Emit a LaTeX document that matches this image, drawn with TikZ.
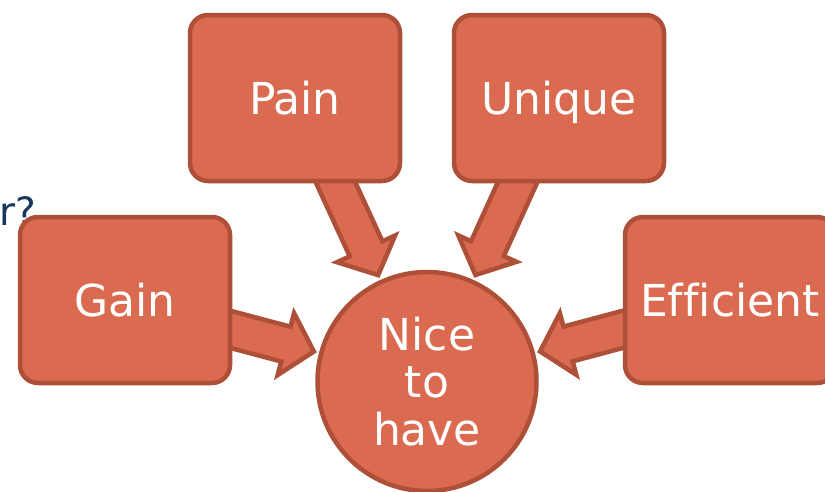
\documentclass[tikz,border=0pt]{standalone}
\usepackage{fontspec}
\setmainfont{DejaVu Sans}[Ligatures=NoCommon]
\usetikzlibrary{calc,backgrounds}
\definecolor{boxfill}{RGB}{218,106,80}
\definecolor{boxline}{RGB}{174,79,56}
\definecolor{navy}{RGB}{23,55,94}
\tikzset{
  basestyle/.style={fill=boxfill, draw=boxline, line width=4.5pt},
  bigtext/.style={text=white, font=\fontsize{44}{47.5}\selectfont},
  box/.style={basestyle, bigtext, rectangle, rounded corners=18pt,
    minimum width=210pt, minimum height=166pt, inner sep=0pt,
    text height=32pt, text depth=0pt},
  circ/.style={basestyle, bigtext, circle, minimum size=219pt, inner sep=0pt, align=center},
  blockarrow/.style={basestyle, line join=miter},
}
% #1 = start (hidden in box), #2 = tip
\newcommand\blockarrow[2]{%
  \coordinate (hb) at ($(#2)!29pt!(#1)$);
  \draw[blockarrow]
    ($(#1)!18pt!90:(#2)$) -- ($(hb)!18pt!-90:(#1)$) -- ($(hb)!32pt!-90:(#1)$)
    -- (#2) -- ($(hb)!32pt!90:(#1)$) -- ($(hb)!18pt!90:(#1)$)
    -- ($(#1)!18pt!-90:(#2)$) -- cycle;}
\begin{document}
\begin{tikzpicture}[x=1pt, y=-1pt]
  \useasboundingbox (0,0) rectangle (825,491);
  \clip (0,0) rectangle (825,491);
  \node[anchor=base west, inner sep=0pt, text=navy, font=\fontsize{39}{40}\selectfont] (cut) at (-1,225) {r?};

  \node[box] (pain) at (295,98) {Pain};
  \node[box] (unique) at (559,98) {Unique};
  \node[box] (gain) at (125,300) {Gain};
  \node[box] (eff) at (730,300) {Efficient};
  \node[circ] (nice) at (427,381.5) {Nice\\to\\have};

  \coordinate (s1) at (323,155);
  \coordinate (s2) at (530,155);
  \coordinate (s3) at (180,316);
  \coordinate (s4) at (673,316);
  \coordinate (t1) at ($(nice.center)!117pt!(s1)$);
  \coordinate (t2) at ($(nice.center)!117pt!(s2)$);
  \coordinate (t3) at ($(nice.center)!117pt!(s3)$);
  \coordinate (t4) at ($(nice.center)!117pt!(s4)$);
  \begin{scope}[on background layer]
    \blockarrow{s1}{t1}
    \blockarrow{s2}{t2}
    \blockarrow{s3}{t3}
    \blockarrow{s4}{t4}
  \end{scope}
\end{tikzpicture}
\end{document}
